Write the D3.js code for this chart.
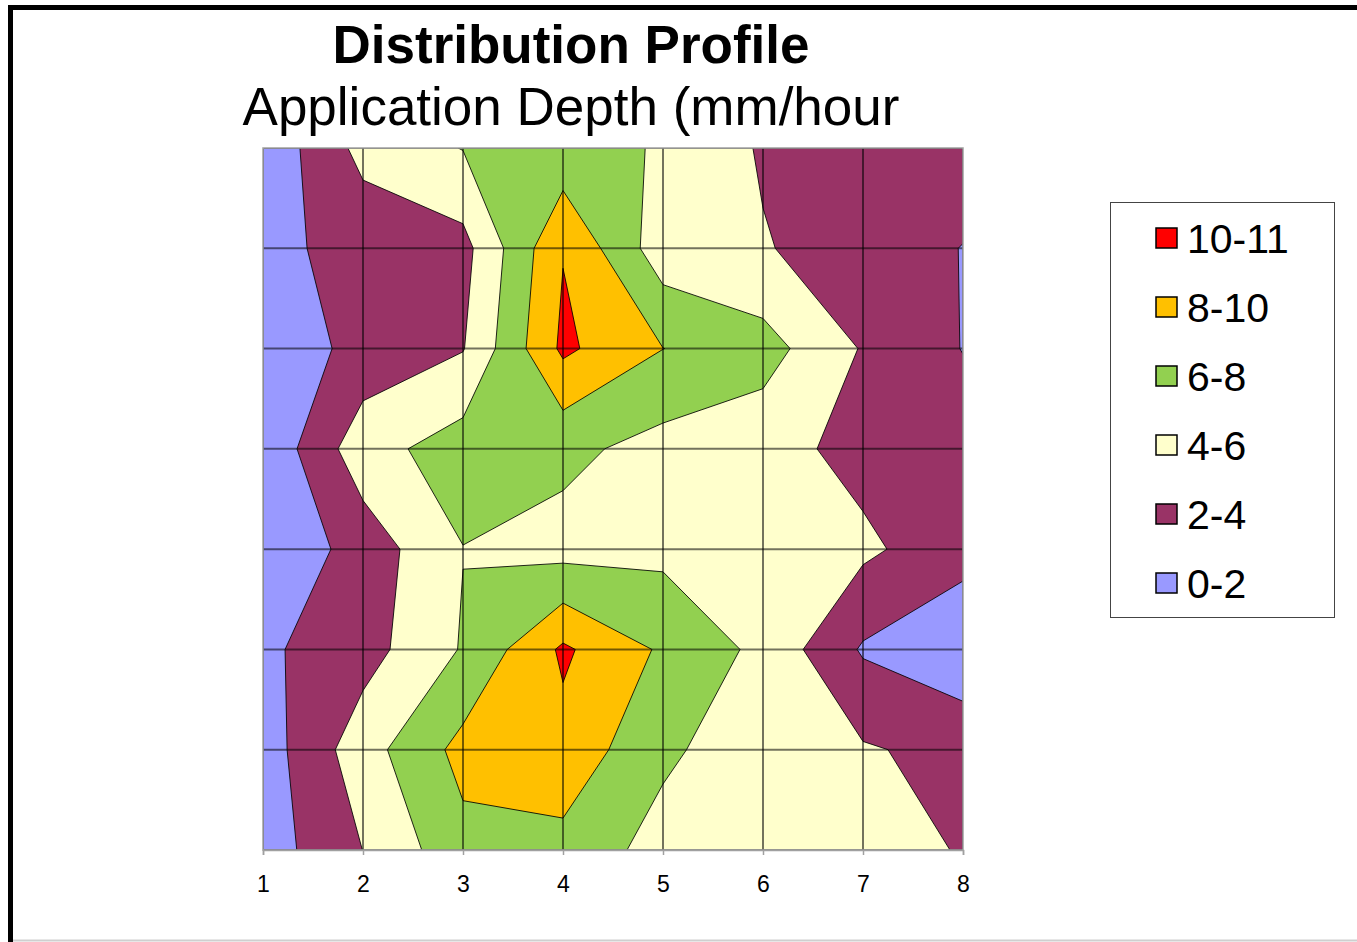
<!DOCTYPE html>
<html>
<head>
<meta charset="utf-8">
<script src="https://cdn.jsdelivr.net/npm/d3@7"></script>
<style>
  html, body { margin: 0; padding: 0; background: #fff; }
  svg { display: block; font-family: "Liberation Sans", Arial, sans-serif; }
</style>
</head>
<body>
<svg id="chart" width="1357" height="942"></svg>
<script>
// ---- data ----
const titleText = "Distribution Profile";
const subtitleText = "Application Depth (mm/hour";
const xLabels = [1, 2, 3, 4, 5, 6, 7, 8];
const rowIndex = [0, 1, 2, 3, 4, 5, 6, 7];
// application depth (mm/hour) at each grid node, rows from top to bottom
const row1 = [0.46, 4.63, 6.07, 6.60, 5.87, 3.79, 3.00, 3.00];
const row2 = [1.48, 2.66, 3.33, 9.90, 4.85, 4.14, 3.00, 1.95];
const row3 = [0.50, 2.67, 3.90, 10.40, 8.02, 6.80, 3.85, 1.94];
const row4 = [0.34, 5.22, 6.95, 6.50, 5.30, 4.80, 3.32, 3.00];
const row5 = [0.20, 2.85, 5.96, 5.30, 5.50, 5.20, 4.41, 2.70];
const row6 = [1.66, 3.20, 6.16, 10.32, 7.71, 5.49, 1.78, 0.50];
const row7 = [1.00, 5.15, 8.63, 9.35, 6.40, 4.70, 4.20, 3.40];
const row8 = [0.97, 4.02, 7.39, 7.37, 5.23, 5.00, 5.00, 3.85];
const bandThresholds = [0, 2, 4, 6, 8, 10];
const bandLabels = ["0-2", "2-4", "4-6", "6-8", "8-10", "10-11"];
const bandColors = ["#9999FF", "#993366", "#FFFFCC", "#92D050", "#FFC000", "#FF0000"];

// ---- layout ----
const svg = d3.select("#chart");
const plot = { left: 263, right: 963, top: 148, bottom: 850 };

const x = d3.scaleLinear().domain([1, 8]).range([plot.left, plot.right]);
const y = d3.scaleLinear().domain([0, 7]).range([plot.top, plot.bottom]);

// outer frame
svg.append("path")
  .attr("d", `M10.5,942 V7.5 H1357`)
  .attr("fill", "none").attr("stroke", "#000").attr("stroke-width", 5);
svg.append("line")
  .attr("x1", 13).attr("x2", 1357).attr("y1", 940.5).attr("y2", 940.5)
  .attr("stroke", "#cfcfcf").attr("stroke-width", 2);

// titles
svg.append("text").attr("x", 571).attr("y", 63).attr("text-anchor", "middle")
  .style("font-size", "53px").attr("font-weight", "bold").attr("fill", "#000").text(titleText);
svg.append("text").attr("x", 571).attr("y", 125).attr("text-anchor", "middle")
  .style("font-size", "53px").attr("fill", "#000").text(subtitleText);

// contours
const values = [row1, row2, row3, row4, row5, row6, row7, row8].flat();
const contours = d3.contours()
  .size([xLabels.length, rowIndex.length])
  .thresholds(bandThresholds)(values);

const proj = d3.geoTransform({
  point: function(px, py) { this.stream.point(x(px + 0.5), y(py - 0.5)); }
});
const path = d3.geoPath(proj);

svg.append("clipPath").attr("id", "plotClip")
  .append("rect")
  .attr("x", plot.left).attr("y", plot.top)
  .attr("width", plot.right - plot.left).attr("height", plot.bottom - plot.top);

const g = svg.append("g").attr("clip-path", "url(#plotClip)");
g.selectAll("path.band")
  .data(contours)
  .join("path")
  .attr("class", "band")
  .attr("d", path)
  .attr("fill", (d, i) => bandColors[i])
  .attr("stroke", "#000")
  .attr("stroke-opacity", 0.85)
  .attr("stroke-width", 1)
  .attr("stroke-linejoin", "round");

// gridlines
g.selectAll("line.vgrid").data(xLabels).join("line")
  .attr("class", "vgrid")
  .attr("x1", d => x(d)).attr("x2", d => x(d))
  .attr("y1", plot.top).attr("y2", plot.bottom)
  .attr("stroke", "#000").attr("stroke-opacity", 0.55).attr("stroke-width", 2);
g.selectAll("line.hgrid").data(rowIndex).join("line")
  .attr("class", "hgrid")
  .attr("x1", plot.left).attr("x2", plot.right)
  .attr("y1", d => y(d)).attr("y2", d => y(d))
  .attr("stroke", "#000").attr("stroke-opacity", 0.55).attr("stroke-width", 2);

// plot border
svg.append("rect")
  .attr("x", plot.left).attr("y", plot.top)
  .attr("width", plot.right - plot.left).attr("height", plot.bottom - plot.top)
  .attr("fill", "none").attr("stroke", "#a0a0a0").attr("stroke-width", 1.5);

// x axis
const xAxis = d3.axisBottom(x).tickValues(xLabels).tickSize(5).tickPadding(21)
  .tickFormat(d3.format("d"));
const ax = svg.append("g").attr("transform", `translate(0,${plot.bottom})`).call(xAxis);
ax.attr("font-size", null).attr("font-family", null);
ax.select(".domain").attr("stroke", "#a0a0a0").attr("stroke-width", 1.5);
ax.selectAll(".tick line").attr("stroke", "#a0a0a0").attr("stroke-width", 1.5);
ax.selectAll(".tick text")
  .style("font-size", "23px")
  .style("font-family", "'Liberation Sans', Arial, sans-serif")
  .attr("fill", "#000");

// legend
const legend = svg.append("g");
legend.append("rect")
  .attr("x", 1110.5).attr("y", 202.5).attr("width", 224).attr("height", 415)
  .attr("fill", "#fff").attr("stroke", "#444").attr("stroke-width", 1);
const legendOrder = d3.range(bandLabels.length).reverse();
const ly = d3.scalePoint().domain(legendOrder).range([238, 583]);
const items = legend.selectAll("g.item").data(legendOrder).join("g")
  .attr("class", "item")
  .attr("transform", i => `translate(0,${ly(i)})`);
items.append("rect")
  .attr("x", 1156).attr("y", -10).attr("width", 21).attr("height", 20)
  .attr("fill", i => bandColors[i]).attr("stroke", "#000").attr("stroke-width", 1.5);
items.append("text")
  .attr("x", 1187).attr("y", 15)
  .style("font-size", "41px").attr("fill", "#000")
  .text(i => bandLabels[i]);
</script>
</body>
</html>
